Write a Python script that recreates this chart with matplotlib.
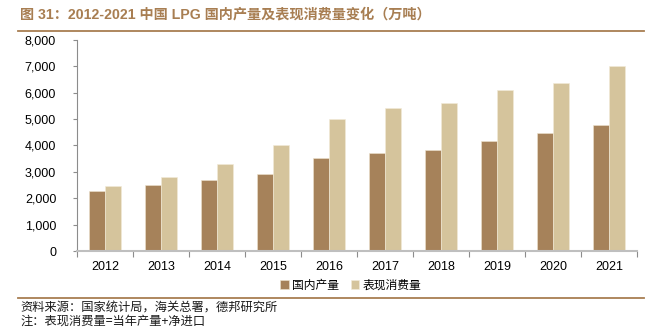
import numpy as np
import matplotlib.pyplot as plt
from matplotlib.ticker import FuncFormatter

plt.rcParams['font.family'] = ['Liberation Sans', 'Noto Sans CJK SC', 'DejaVu Sans']

years = ['2012', '2013', '2014', '2015', '2016', '2017', '2018', '2019', '2020', '2021']
production = [2260, 2500, 2700, 2930, 3510, 3700, 3820, 4160, 4470, 4780]
consumption = [2470, 2800, 3280, 4010, 5000, 5420, 5620, 6090, 6360, 7010]
series_names = ['国内产量', '表现消费量']

c_prod = '#A6825A'
c_cons = '#D5C49C'
brown = '#A87E52'

fig = plt.figure(figsize=(6.5, 3.27), dpi=100)
ax = fig.add_axes([0.1185, 0.2324, 0.8615, 0.6453])

x = np.arange(len(years))
w = 0.285
ax.bar(x - w / 2, production, w, color=c_prod, edgecolor='#EDE3CF', linewidth=0.4, label=series_names[0])
ax.bar(x + w / 2, consumption, w, color=c_cons, edgecolor='#F2EAD8', linewidth=0.4, label=series_names[1])

ax.set_xlim(-0.5, len(years) - 0.5)
ax.set_ylim(0, 8000)
ax.set_yticks(np.arange(0, 8001, 1000))
ax.yaxis.set_major_formatter(FuncFormatter(lambda v, p: '{:,.0f}'.format(v)))
ax.set_xticks(x)
ax.set_xticklabels(years)
ax.set_xticks(np.arange(-0.5, len(years), 1), minor=True)
ax.tick_params(axis='x', which='major', length=0, pad=7, labelsize=9)
ax.tick_params(axis='x', which='minor', length=4, color='#8C8C8C', width=0.8)
ax.tick_params(axis='y', length=3, color='#8C8C8C', width=0.8, labelsize=9, pad=12)

for s in ['top', 'right']:
    ax.spines[s].set_visible(False)
ax.spines['left'].set_color('#8C8C8C')
ax.spines['left'].set_linewidth(0.8)
ax.spines['bottom'].set_color('#BFBFBF')
ax.spines['bottom'].set_linewidth(1.5)

fig.legend(loc='center', bbox_to_anchor=(0.54, 1 - 285 / 327), ncol=2, frameon=False,
           handlelength=0.7, handleheight=0.7, handletextpad=0.3, columnspacing=1.0,
           prop={'family': 'Noto Sans CJK SC', 'size': 8.5})

# title and separators
fig.text(0.031, 1 - 14 / 327, '图 31：2012-2021 中国 LPG 国内产量及表现消费量变化（万吨）',
         fontsize=10.2, fontweight='bold', color=brown, va='center', ha='left',
         family=['Liberation Sans', 'Noto Sans CJK SC', 'DejaVu Sans'])
fig.add_artist(plt.Line2D([0.028, 0.99], [1 - 31 / 327] * 2, color=brown, lw=1.3))
fig.add_artist(plt.Line2D([0.028, 0.99], [1 - 298 / 327] * 2, color=brown, lw=1.3))

fig.text(0.031, 1 - 308 / 327, '资料来源：国家统计局，海关总署，德邦研究所', fontsize=8.8,
         color='#1A1A1A', va='center', family=['Noto Sans CJK SC', 'DejaVu Sans'])
fig.text(0.031, 1 - 321 / 327, '注：表现消费量=当年产量+净进口', fontsize=8.8,
         color='#1A1A1A', va='center', family=['Noto Sans CJK SC', 'DejaVu Sans'])

fig.savefig('out.png', dpi=100)
